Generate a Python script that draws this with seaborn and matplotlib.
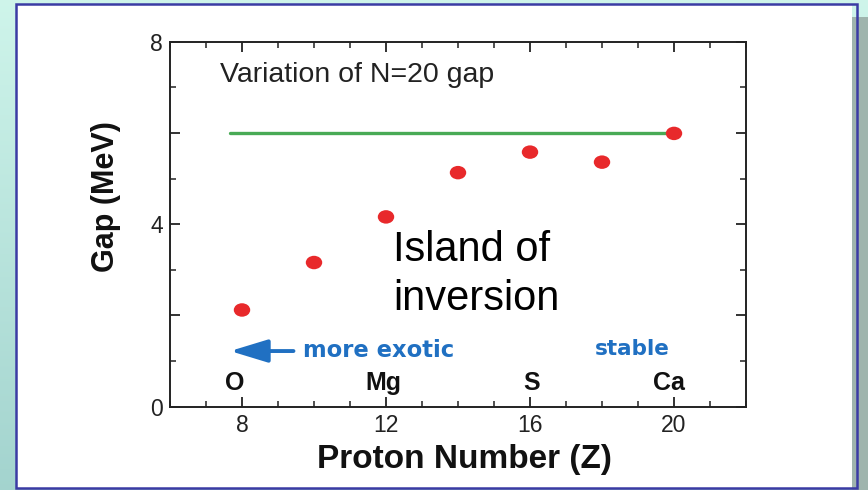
import numpy as np
import pandas as pd
import matplotlib
matplotlib.use("Agg")
import matplotlib.pyplot as plt
import seaborn as sns
from matplotlib.patches import Rectangle, FancyArrowPatch
from matplotlib.path import Path
from matplotlib.transforms import Affine2D
from matplotlib.ticker import MultipleLocator, FixedLocator, FuncFormatter

# N=20 shell gap versus proton number
proton_number = [8, 10, 12, 14, 16, 18, 20]
gap_mev = [2.12, 3.16, 4.16, 5.13, 5.58, 5.36, 5.99]

# reference (stable) gap level
ref_line_z = [7.66, 20]
ref_line_gap = [6.0, 6.0]

# element names placed above the axis
element_z = [7.81, 11.93, 16.05, 19.85]
element_names = ["O", "Mg", "S", "Ca"]

x_tick_labels = [8, 12, 16, 20]
y_tick_labels = [0, 4, 8]

sns.set_theme(style="ticks")
plt.rcParams["font.family"] = ["Liberation Sans", "DejaVu Sans"]

W, H = 868, 490
fig = plt.figure(figsize=(W / 100, H / 100), dpi=100)

# slide-style backdrop
bg = fig.add_axes([0, 0, 1, 1], zorder=-10)
grad = np.linspace(0, 1, 256)[:, None]
c_top = np.array([0.81, 0.96, 0.92])
c_bot = np.array([0.64, 0.83, 0.81])
img = c_top[None, None, :] * (1 - grad[:, :, None]) + c_bot[None, None, :] * grad[:, :, None]
bg.imshow(img, extent=[0, 1, 0, 1], aspect="auto", origin="upper")
bg.set_xlim(0, 1)
bg.set_ylim(0, 1)
bg.axis("off")


def px_rect(x0, y0, x1, y1, **kw):
    return Rectangle((x0 / W, 1 - y1 / H), (x1 - x0) / W, (y1 - y0) / H, **kw)


bg.add_patch(px_rect(852, 17, 868, 490, facecolor="#9fb4ad", edgecolor="none"))
bg.add_patch(px_rect(16, 4, 852, 488, facecolor="white", edgecolor="none"))
bg.add_patch(px_rect(16, 4, 857, 488, facecolor="none", edgecolor="#3b3ba4", linewidth=1.8))

ax = fig.add_axes([170 / W, 1 - 406.7 / H, (746 - 170) / W, (406.7 - 41.7) / H])
ax.set_facecolor("none")

df = pd.DataFrame({"Z": proton_number, "gap": gap_mev})
ref = pd.DataFrame({"Z": ref_line_z, "gap": ref_line_gap})

sns.lineplot(data=ref, x="Z", y="gap", ax=ax, color="#48aa55", linewidth=2.4, zorder=2)

ellipse = Path.unit_circle().transformed(Affine2D().scale(1.22, 1.0))
sns.scatterplot(data=df, x="Z", y="gap", ax=ax, marker=ellipse, s=140,
                color="#e8292b", edgecolor="none", linewidth=0, zorder=3)

ax.set_xlim(6, 22)
ax.set_ylim(0, 8)

ax.xaxis.set_major_locator(FixedLocator(x_tick_labels))
ax.xaxis.set_minor_locator(MultipleLocator(1))
ax.yaxis.set_major_locator(MultipleLocator(2))
ax.yaxis.set_minor_locator(MultipleLocator(1))
ax.yaxis.set_major_formatter(FuncFormatter(lambda v, p: f"{int(v)}" if int(round(v)) in y_tick_labels else ""))

ax.tick_params(which="both", direction="in", top=True, right=True, color="#222222",
               labelsize=16.5, labelcolor="#222222", pad=5)
ax.tick_params(which="major", length=7, width=1.3)
ax.tick_params(which="minor", length=4, width=1.1)
for s in ax.spines.values():
    s.set_linewidth(1.4)
    s.set_color("#222222")

ax.set_xlabel("Proton Number (Z)", fontsize=24, fontweight="bold", color="#111111")
ax.xaxis.set_label_coords((464.5 - 170) / 576, (406.7 - 444) / 365)
ax.set_ylabel("Gap (MeV)", fontsize=22, fontweight="bold", color="#111111")
ax.yaxis.set_label_coords((121 - 170) / 576, (406.7 - 197) / 365)

ax.text(7.4, 7.27, "Variation of N=20 gap", fontsize=20.5, color="#222222", ha="left", va="center")
ax.text(12.2, 3.19, "Island of", fontsize=30, color="black", ha="left", va="baseline")
ax.text(12.2, 2.12, "inversion", fontsize=30, color="black", ha="left", va="baseline")

for z, name in zip(element_z, element_names):
    ax.text(z, 0.52, name, fontsize=18, fontweight="bold", color="#111111", ha="center", va="center")

blue = "#2070c2"
ax.text(9.7, 1.24, "more exotic", fontsize=16.3, fontweight="bold", color=blue,
        family="DejaVu Sans", ha="left", va="center")
ax.text(18.84, 1.27, "stable", fontsize=15.5, fontweight="bold", color=blue,
        family="DejaVu Sans", ha="center", va="center")
ax.add_patch(FancyArrowPatch((9.43, 1.22), (7.67, 1.22), arrowstyle="-|>,head_length=23,head_width=7",
                             mutation_scale=1, color=blue, linewidth=2.8, shrinkA=0, shrinkB=0))

fig.savefig("out.png", dpi=100)
